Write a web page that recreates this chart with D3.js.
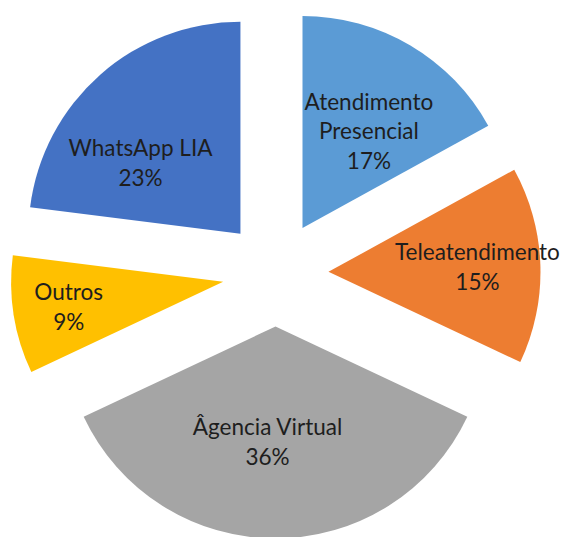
<!DOCTYPE html>
<html>
<head>
<meta charset="utf-8">
<script src="https://cdn.jsdelivr.net/npm/d3@7"></script>
<style>
  html, body { margin: 0; padding: 0; background: #ffffff; }
  svg { display: block; }
</style>
</head>
<body>
<svg id="chart" width="566" height="537"></svg>
<script>
// ---- data ----
const categories = ["Atendimento Presencial", "Teleatendimento", "Âgencia Virtual", "Outros", "WhatsApp LIA"];
const labelLines = [["Atendimento", "Presencial"], ["Teleatendimento"], ["Âgencia Virtual"], ["Outros"], ["WhatsApp LIA"]];
const values = [17, 15, 36, 9, 23];
const colors = ["#5B9BD5", "#ED7D31", "#A5A5A5", "#FFC000", "#4472C4"];

// ---- layout ----
const W = 566, H = 537;
const cx = 275.5, cy = 273.5, R = 212, explode = 53;
const lineH = 29.5;
// label anchor relative to exploded slice apex: distance (fraction of R) and angle offset (deg) from mid-angle
const labelLayout = [
  { dr: 111 / 212, da: 6.2 },
  { dr: 149 / 212, da: 3.0 },
  { dr: 124 / 212, da: 3.7 },
  { dr: 158 / 212, da: -3.2 },
  { dr: 118 / 212, da: -16.5 }
];

const svg = d3.select("#chart");
const fontFamily = "Lato, 'Open Sans', 'DejaVu Sans', sans-serif";

// calibrate font size so that "Teleatendimento" is ~165px wide
const probe = svg.append("text").attr("font-family", fontFamily).attr("font-size", 100).text("Teleatendimento");
const pw = probe.node().getComputedTextLength();
probe.remove();
const fontSize = 100 * 165 / pw;

const pie = d3.pie().sort(null).value(d => d);
const arcs = pie(values);
const arc = d3.arc().innerRadius(0).outerRadius(R);

const g = svg.append("g").attr("transform", `translate(${cx},${cy})`);

arcs.forEach((a, i) => {
  const mid = (a.startAngle + a.endAngle) / 2;
  const ox = Math.sin(mid) * explode, oy = -Math.cos(mid) * explode;
  const sg = g.append("g").attr("transform", `translate(${ox},${oy})`);
  sg.append("path").attr("d", arc(a)).attr("fill", colors[i]);

  const L = labelLayout[i];
  const ang = mid + L.da * Math.PI / 180;
  const lx = Math.sin(ang) * L.dr * R, ly = -Math.cos(ang) * L.dr * R;
  const lines = labelLines[i].concat([values[i] + "%"]);
  const n = lines.length;
  const t = sg.append("text")
    .attr("text-anchor", "middle")
    .attr("font-family", fontFamily)
    .attr("font-size", fontSize)
    .attr("fill", "#1e1e1e");
  lines.forEach((s, k) => {
    t.append("tspan")
      .attr("x", lx)
      .attr("y", ly + (k - (n - 1) / 2) * lineH)
      .text(s);
  });
});
</script>
</body>
</html>
